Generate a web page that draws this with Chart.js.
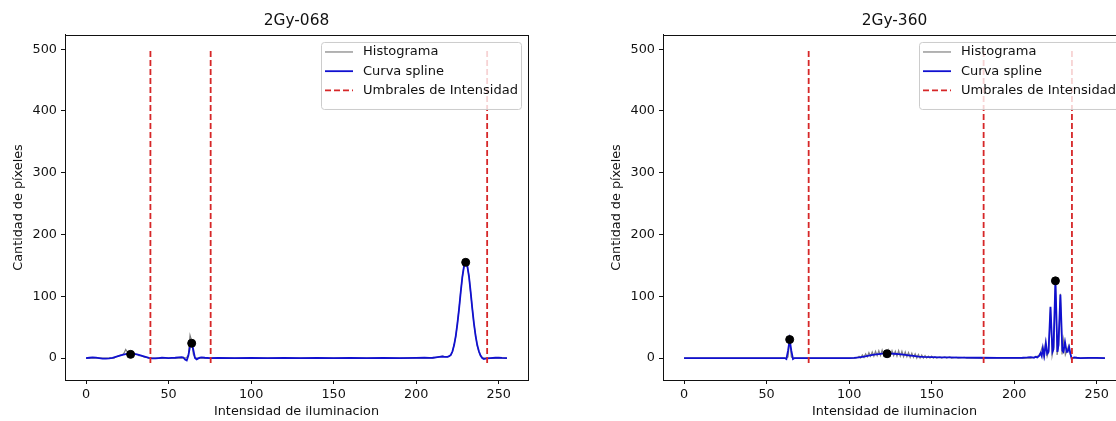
<!DOCTYPE html>
<html>
<head>
<meta charset="utf-8">
<script src="https://cdn.jsdelivr.net/npm/chart.js@4.4.0/dist/chart.umd.min.js"></script>
<style>
body { margin: 0; background: #fff; width: 1116px; height: 421px; overflow: hidden; position: relative; }
.panel { position: absolute; top: 0; }
</style>
</head>
<body>
<div class="panel" style="left:0px"><canvas id="chart068" width="558" height="421"></canvas></div>
<div class="panel" style="left:598px"><canvas id="chart360" width="558" height="421"></canvas></div>
<script>
// ticks and labels
const xTicks = [0, 50, 100, 150, 200, 250];
const yTicks = [0, 100, 200, 300, 400, 500];
const legendLabels = ['Histograma', 'Curva spline', 'Umbrales de Intensidad'];
const umbralMin = -8;
const umbralMax = 500;

// 2Gy-068
const hist068X = [0, 17, 18, 19, 20, 21, 22, 23, 24, 25, 26, 27, 28, 29, 30, 31, 32, 33, 34, 35, 36, 37, 38,
  60, 61, 62, 63, 64, 65, 66, 67,
  210, 212, 214, 216, 218, 219, 220, 221, 222, 223, 224, 225, 226, 227, 228, 229, 230, 231, 232, 233, 234, 235, 236, 237, 238, 239, 240, 241, 255];
const hist068Y = [0, 0, 2, 3, 4, 5, 5, 8, 14, 10, 7, 6, 9, 7, 6, 6, 4, 4, 3, 2, 1, 1, 0,
  0, 1, 5, 37, 28, 6, 1, 0,
  0, 1, 2, 3, 2, 2, 3, 5, 10, 22, 35, 57, 80, 108, 131, 150, 157, 148, 133, 106, 81, 55, 37, 20, 10, 4, 1, 0, 0];
const spline068X = [0, 2, 4, 6, 8, 10, 12, 14, 16, 18, 20, 22, 24, 26, 28, 30, 32, 34, 36, 38, 40, 42, 44, 46, 48, 50,
  52, 54, 56, 58, 59, 60, 61, 62, 63, 64, 65, 66, 67, 68, 69, 70, 72, 75, 80, 90, 100, 110, 120, 130, 140, 150, 160,
  170, 180, 190, 200, 205, 208, 210, 212, 214, 216, 217, 218, 219, 220, 221, 222, 223, 224, 225, 226, 227, 228, 229,
  230, 231, 232, 233, 234, 235, 236, 237, 238, 239, 240, 241, 242, 243, 245, 248, 250, 252, 255];
const spline068Y = [0, 0.5, 1, 0.8, 0, -0.8, -1, -0.5, 0.5, 2, 3.5, 5, 6.5, 7.5, 7.5, 6.5, 5, 3.5, 2, 0.5, -0.5, -0.5, 0, 0.5, 0.3, 0,
  0.2, 0.5, 1, 1.5, 1, -2.5, -4, 4, 19, 25, 13, 0, -2, -0.5, 0.8, 1, 0.5, 0, 0.2, 0, 0.1, 0, 0.1, 0, 0.1, 0, 0.1,
  0, 0.1, 0, 0.3, 0.5, 0.3, 0.5, 1.2, 2, 2.5, 2, 1.8, 2, 3, 5, 11, 21, 36, 56, 80, 107, 132, 149,
  155, 149, 132, 107, 80, 56, 36, 21, 11, 4, 0, -1.5, -1, -0.5, 0, 0.5, 0.5, 0.2, 0];
const umbrales068 = [39, 75.5, 243];
const picos068X = [27, 64, 230];
const picos068Y = [6, 24, 155];

// 2Gy-360
const hist360X = [0, 62, 63, 64, 65, 66,
  104, 105, 106, 107, 108, 109, 110, 111, 112, 113, 114, 115, 116, 117, 118, 119, 120, 121, 122, 123, 124, 125, 126,
  127, 128, 129, 130, 131, 132, 133, 134, 135, 136, 137, 138, 139, 140, 141, 142, 143, 144, 145, 146, 147, 148, 149,
  150, 151, 152, 153, 155, 156, 158, 159, 161, 162, 165, 166, 170, 171,
  210, 213, 215, 216, 217, 218, 219, 220, 221, 222, 223, 224, 225, 226, 227, 228, 229, 230, 231, 232, 233, 234, 235, 255];
const hist360Y = [0, 0, 2, 30, 2, 0,
  0, 1, 3, 0, 5, 1, 7, 2, 9, 3, 10, 3, 11, 4, 12, 4, 13, 4, 12, 5, 13, 4, 12,
  4, 11, 3, 12, 3, 11, 2, 10, 2, 9, 1, 8, 1, 7, 0, 6, 0, 5, 0, 4, 0, 3, 0,
  3, 0, 2, 0, 2, 0, 2, 0, 2, 0, 1, 0, 1, 0,
  0, 2, 4, 9, 18, 2, 26, 3, 12, 82, 4, 18, 125, 5, 22, 104, 6, 30, 5, 12, 20, 6, 0, 0];
const spline360X = [0, 60, 61, 62, 63, 64, 65, 66, 67, 100, 103, 106, 109, 112, 115, 118, 121, 124, 127, 130, 133, 136,
  139, 142, 145, 150, 155, 160, 170, 180, 190, 200, 205, 208, 210, 211, 212, 213, 214, 215, 216, 216.7, 217.4, 218.2,
  219.2, 220, 220.8, 222, 223.2, 223.8, 225, 226.2, 226.8, 228, 229.2, 229.8, 230.8, 231.8, 232.4, 233.3, 234, 234.8,
  235.5, 236.5, 238, 240, 245, 250, 255];
const spline360Y = [0, 0, 0, -1.5, 12, 30, 12, -1.5, 0, 0, 0.3, 1, 2.5, 4, 5.5, 6.5, 7.5, 7.5, 7, 6.5, 5.5, 4.5,
  3.5, 2.5, 2, 1.5, 1.2, 1, 0.6, 0.5, 0.3, 0.3, 0.5, 1, 1.5, 1, 0.5, 2, 1, 3, 8, 3, 16, 4,
  24, 7, 10, 83, 10, 14, 126, 10, 20, 103, 12, 10, 26, 10, 10, 18, 8, -1,
  0.5, 1, 0.5, 0, 0.3, 0.3, 0];
const umbrales360 = [75.5, 181.5, 235];
const picos360X = [64, 123, 225];
const picos360Y = [30, 7, 125];

Chart.defaults.font.family = '"DejaVu Sans", sans-serif';
Chart.defaults.font.size = 12.8;
Chart.defaults.color = '#111';

const legendColors = ['#808080', '#1010d0', '#d62728'];
const legendWidths = [1.2, 1.8, 1.8];

// marco del eje y leyenda dentro del area
const framePlugin = {
  id: 'frame',
  afterDatasetsDraw(chart) {
    const a = chart.chartArea;
    const ctx = chart.ctx;
    ctx.save();
    const x0 = a.left + 256, y0 = a.top + 7, w = 200, h = 67;
    ctx.beginPath();
    ctx.roundRect(x0 + 0.5, y0 + 0.5, w, h, 3);
    ctx.fillStyle = 'rgba(255,255,255,0.8)';
    ctx.fill();
    ctx.strokeStyle = '#cccccc';
    ctx.lineWidth = 1;
    ctx.stroke();
    legendLabels.forEach(function (lab, i) {
      const y = y0 + 10 + i * 19.2;
      ctx.beginPath();
      ctx.setLineDash(i == 2 ? [6, 3] : []);
      ctx.strokeStyle = legendColors[i];
      ctx.lineWidth = legendWidths[i];
      ctx.moveTo(x0 + 4, y);
      ctx.lineTo(x0 + 32, y);
      ctx.stroke();
      ctx.setLineDash([]);
      ctx.fillStyle = '#111';
      ctx.font = '13px "DejaVu Sans"';
      ctx.textBaseline = 'middle';
      ctx.textAlign = 'left';
      ctx.fillText(lab, x0 + 42, y);
    });
    ctx.strokeStyle = '#111';
    ctx.lineWidth = 1;
    ctx.strokeRect(Math.round(a.left) + 0.5, Math.round(a.top) + 0.5, Math.round(a.right - a.left), Math.round(a.bottom - a.top));
    ctx.restore();
  }
};

function toPts(xs, ys) {
  return xs.map(function (x, i) { return { x: x, y: ys[i] }; });
}

function make_chart(id, title, histX, histY, splX, splY, umbrales, picX, picY) {
  var umbralPts = [];
  umbrales.forEach(function (u) {
    umbralPts.push({ x: u, y: umbralMin }, { x: u, y: umbralMax }, { x: u, y: null });
  });

  var ctx = document.getElementById(id).getContext('2d');
  return new Chart(ctx, {
    type: 'line',
    data: {
      datasets: [
        {
          label: legendLabels[0],
          data: toPts(histX, histY),
          borderColor: legendColors[0],
          borderWidth: legendWidths[0],
          pointRadius: 0,
          tension: 0,
          order: 4
        },
        {
          label: legendLabels[1],
          data: toPts(splX, splY),
          borderColor: legendColors[1],
          borderWidth: legendWidths[1],
          pointRadius: 0,
          tension: 0,
          order: 3
        },
        {
          label: legendLabels[2],
          data: umbralPts,
          borderColor: legendColors[2],
          borderWidth: legendWidths[2],
          borderDash: [6, 3],
          pointRadius: 0,
          spanGaps: false,
          order: 2
        },
        {
          label: 'picos',
          data: toPts(picX, picY),
          showLine: false,
          pointRadius: 4,
          pointBackgroundColor: '#000',
          pointBorderColor: '#000',
          order: 1
        }
      ]
    },
    options: {
      responsive: false,
      animation: false,
      devicePixelRatio: 1,
      layout: { padding: { left: 0, right: 30, top: 0, bottom: 0 } },
      plugins: {
        legend: { display: false },
        tooltip: { enabled: false },
        title: {
          display: true,
          text: title,
          fullSize: false,
          color: '#111',
          font: { size: 15.4, weight: 'normal' },
          padding: { top: 11.5, bottom: 5 }
        }
      },
      scales: {
        x: {
          type: 'linear',
          min: -12.75,
          max: 267.75,
          afterFit: function (s) { s.height = 41; },
          afterBuildTicks: function (s) { s.ticks = xTicks.map(function (v) { return { value: v }; }); },
          grid: { display: true, drawOnChartArea: false, drawTicks: true, tickLength: 4, tickColor: '#111' },
          border: { display: true, color: '#111' },
          ticks: { color: '#111', padding: 3, maxRotation: 0, autoSkip: false },
          title: { display: true, text: 'Intensidad de iluminacion', color: '#111', padding: { top: 0, bottom: 1.3 } }
        },
        y: {
          type: 'linear',
          min: -35.5,
          max: 523,
          afterFit: function (s) { s.width = 65; },
          afterBuildTicks: function (s) { s.ticks = yTicks.map(function (v) { return { value: v }; }); },
          grid: { display: true, drawOnChartArea: false, drawTicks: true, tickLength: 4, tickColor: '#111' },
          border: { display: true, color: '#111' },
          ticks: { color: '#111', padding: 4, autoSkip: false },
          title: { display: true, text: 'Cantidad de píxeles', color: '#111', padding: { top: 10.6, bottom: 0 } }
        }
      }
    },
    plugins: [framePlugin]
  });
}

make_chart('chart068', '2Gy-068', hist068X, hist068Y, spline068X, spline068Y, umbrales068, picos068X, picos068Y);
make_chart('chart360', '2Gy-360', hist360X, hist360Y, spline360X, spline360Y, umbrales360, picos360X, picos360Y);
</script>
</body>
</html>
